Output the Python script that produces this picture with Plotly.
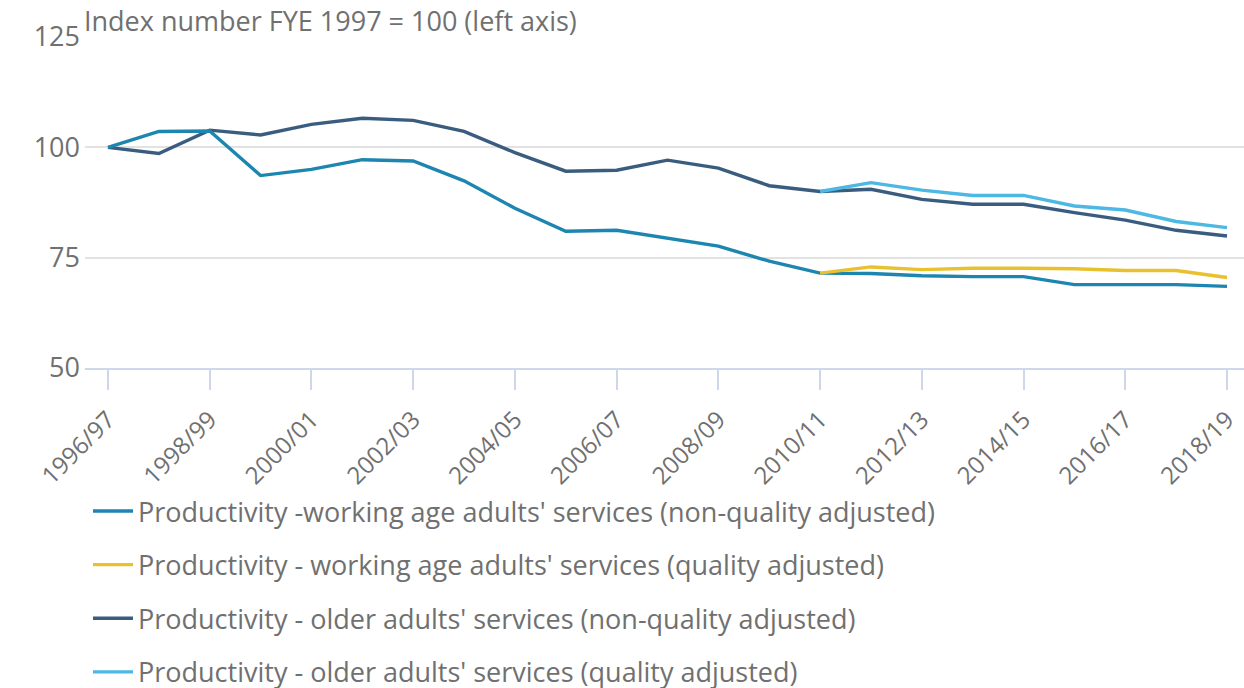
import plotly.graph_objects as go

years = ["1996/97", "1997/98", "1998/99", "1999/00", "2000/01", "2001/02", "2002/03",
         "2003/04", "2004/05", "2005/06", "2006/07", "2007/08", "2008/09", "2009/10",
         "2010/11", "2011/12", "2012/13", "2013/14", "2014/15", "2015/16", "2016/17",
         "2017/18", "2018/19"]

working_nqa = [100.0, 103.6, 103.7, 93.6, 95.0, 97.2, 96.9, 92.4, 86.2, 81.0, 81.2,
               79.4, 77.6, 74.2, 71.5, 71.4, 70.9, 70.7, 70.7, 68.9, 68.9, 68.9, 68.5]
working_qa = [None] * 14 + [71.5, 72.9, 72.3, 72.6, 72.6, 72.5, 72.1, 72.1, 70.5]
older_nqa = [100.0, 98.6, 103.9, 102.8, 105.2, 106.6, 106.1, 103.6, 98.8, 94.6, 94.8,
             97.1, 95.3, 91.3, 90.0, 90.5, 88.2, 87.1, 87.1, 85.2, 83.5, 81.2, 79.9]
older_qa = [None] * 14 + [90.0, 92.0, 90.3, 89.1, 89.1, 86.7, 85.8, 83.2, 81.8]

names = [
    "Productivity -working age adults' services (non-quality adjusted)",
    "Productivity - working age adults' services (quality adjusted)",
    "Productivity - older adults' services (non-quality adjusted)",
    "Productivity - older adults' services (quality adjusted)",
]
colors = ["#1c86b0", "#e8c12f", "#3a5d7f", "#4cb8e3"]
series = [working_nqa, working_qa, older_nqa, older_qa]

tick_labels = years[::2]
xidx = list(range(len(years)))

fig = go.Figure()
order = [2, 0, 3, 1]
for i in order:
    fig.add_trace(go.Scatter(
        x=xidx, y=series[i], mode="lines", name=names[i],
        line=dict(color=colors[i], width=3.4),
        legendgroup=f"g{i}", legendrank=i + 1,
        connectgaps=False, hoverinfo="skip",
    ))

font_color = "#707070"
FS = 27
fig.update_layout(
    width=1244, height=688,
    margin=dict(l=85, r=0, t=37, b=320, autoexpand=False),
    plot_bgcolor="white", paper_bgcolor="white",
    font=dict(family="Open Sans", size=FS, color=font_color),
    showlegend=True,
    legend=dict(
        orientation="v", x=88 / 1244, xanchor="left",
        xref="container", yref="container",
        y=1 - 487 / 688, yanchor="top",
        font=dict(size=FS, color=font_color),
        tracegroupgap=15.5, traceorder="grouped",
        itemwidth=40,
    ),
    xaxis=dict(
        range=[-0.452, 22.334],
        tickmode="array",
        tickvals=xidx[::2], ticktext=tick_labels,
        tickangle=-45,
        ticks="outside", ticklen=20, tickwidth=2, tickcolor="#cdd8ea",
        showline=True, linecolor="#cdd8ea", linewidth=2,
        showgrid=False, zeroline=False,
        ticklabelstandoff=6,
        tickfont=dict(size=24, color=font_color),
    ),
    yaxis=dict(
        range=[50, 125],
        tickvals=[50, 75, 100, 125],
        showgrid=True, gridcolor="#e2e2e2", gridwidth=2,
        zeroline=False, showline=False, ticks="",
        ticklabelstandoff=4,
        tickfont=dict(size=FS, color=font_color),
    ),
    annotations=[dict(
        text="Index number FYE 1997 = 100 (left axis)",
        xref="paper", yref="paper", x=0, y=1.0, xanchor="left", yanchor="bottom",
        xshift=-3, yshift=-4, showarrow=False, font=dict(size=FS, color=font_color),
    )],
)

fig.write_html("out.html")
